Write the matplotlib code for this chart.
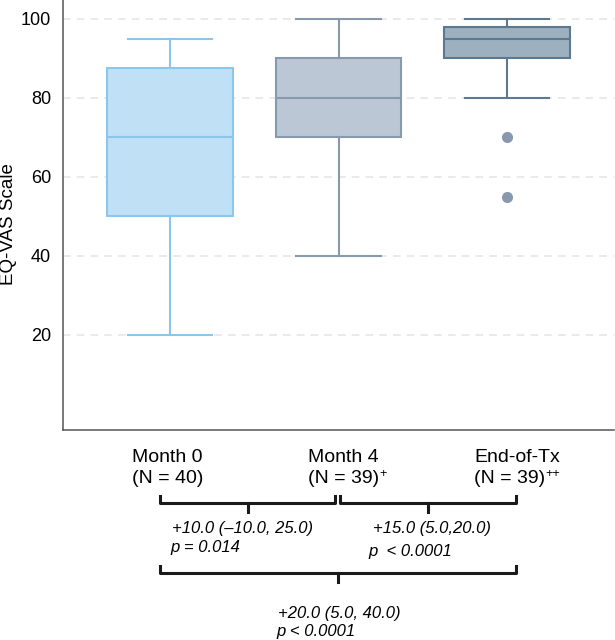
#!/usr/bin/env python3

import matplotlib; matplotlib.use('Agg')
from matplotlib import pyplot as plt

############## DATA ################

groups = ['Month 0', 'Month 4', 'End-of-Tx']
n_labels = ['(N = 40)', '(N = 39)', '(N = 39)']
n_marks = ['', '+', '++']
whislo = [20, 40, 80]
q1 = [50, 70, 90]
med = [70, 80, 95]
q3 = [87.5, 90, 98]
whishi = [95, 100, 100]
fliers = [[], [], [70, 55]]

# pairwise comparisons: (from, to, estimate text, p text)
comparisons = [
    (0, 1, '+10.0 (\u201310.0, 25.0)', 'p = 0.014'),
    (1, 2, '+15.0 (5.0,20.0)', 'p  < 0.0001'),
    (0, 2, '+20.0 (5.0, 40.0)', 'p < 0.0001'),
]

face_colors = ['#c0e0f5', '#bcc7d5', '#9cb0bf']
edge_colors = ['#8cc6ea', '#8899ad', '#5c7990']

############## PLOT ################

plt.rcParams['font.family'] = ['Liberation Sans', 'DejaVu Sans']

W, H = 615, 640
fig = plt.figure(figsize=(W / 100, H / 100), dpi=100)
ax = fig.add_axes([63 / W, 1 - 430 / H, 551 / W, 430 / H])


def fx(px):
    return px / W


def fy(py):
    return 1 - py / H


stats = []
for i in range(len(groups)):
    stats.append(dict(whislo=whislo[i], q1=q1[i], med=med[i], q3=q3[i],
                      whishi=whishi[i], fliers=fliers[i]))

bp = ax.bxp(stats, positions=range(len(groups)), widths=0.742,
            patch_artist=True, showcaps=True, capwidths=0.5,
            manage_ticks=False, zorder=3)

for i in range(len(groups)):
    c = edge_colors[i]
    bp['boxes'][i].set(facecolor=face_colors[i], edgecolor=c, linewidth=1.5)
    bp['medians'][i].set(color=c, linewidth=1.5)
    for w in bp['whiskers'][2 * i:2 * i + 2]:
        w.set(color=c, linewidth=1.5)
    for cap in bp['caps'][2 * i:2 * i + 2]:
        cap.set(color=c, linewidth=1.5)
    bp['fliers'][i].set(marker='o', markerfacecolor='#8899ad',
                        markeredgecolor='#8899ad', markersize=7)

ax.set_xlim(-0.635, 2.635)
ax.set_ylim(-4.05, 104.8)
ax.set_yticks([20, 40, 60, 80, 100])
ax.set_xticks([])
ax.tick_params(axis='y', length=0, pad=8.6, labelsize=13)
ax.yaxis.grid(True, linestyle=(0, (5, 4)), color='#e4e4e4', linewidth=1.1)
ax.set_axisbelow(True)

for s in ['top', 'right']:
    ax.spines[s].set_visible(False)
for s in ['left', 'bottom']:
    ax.spines[s].set_color('#555555')
    ax.spines[s].set_linewidth(1.1)

ax.set_ylabel('EQ-VAS Scale', fontsize=13.5)
ax.yaxis.set_label_coords(-0.083, 0.48)

# group labels under the axis
label_left = [132, 308, 474]
for i in range(len(groups)):
    fig.text(fx(label_left[i]), fy(462), groups[i], fontsize=14, va='baseline')
    t = fig.text(fx(label_left[i]), fy(483), n_labels[i], fontsize=14, va='baseline')
    if n_marks[i]:
        # small superscript marks right after the N label
        ax.annotate(n_marks[i], xy=(1, 0), xycoords=t, xytext=(0.5, 7.5),
                    textcoords='offset points', fontsize=9, va='baseline',
                    ha='left', annotation_clip=False)

# comparison brackets
bracket_ends = {(0, 1): (160, 335), (1, 2): (340, 516), (0, 2): (160, 516)}
bracket_y = {(0, 1): 503, (1, 2): 503, (0, 2): 573}
text_pos = {(0, 1): (172, 533, 170, 552),
            (1, 2): (373, 533, 368, 556),
            (0, 2): (278, 618, 276, 636)}

for a, b, est, p in comparisons:
    x0, x1 = bracket_ends[(a, b)]
    y = bracket_y[(a, b)]
    xm = (x0 + x1) / 2
    fig.add_artist(plt.Line2D([fx(x0), fx(x0), fx(x1), fx(x1)],
                              [fy(y - 7), fy(y), fy(y), fy(y - 7)],
                              color='#1a1a1a', linewidth=2.2))
    fig.add_artist(plt.Line2D([fx(xm), fx(xm)], [fy(y), fy(y + 9)],
                              color='#1a1a1a', linewidth=2.2))
    ex, ey, px_, py_ = text_pos[(a, b)]
    fig.text(fx(ex), fy(ey), est, fontsize=12, style='italic', va='baseline')
    fig.text(fx(px_), fy(py_), p, fontsize=12, style='italic', va='baseline')

plt.savefig('out.png', dpi=100)
plt.close()
